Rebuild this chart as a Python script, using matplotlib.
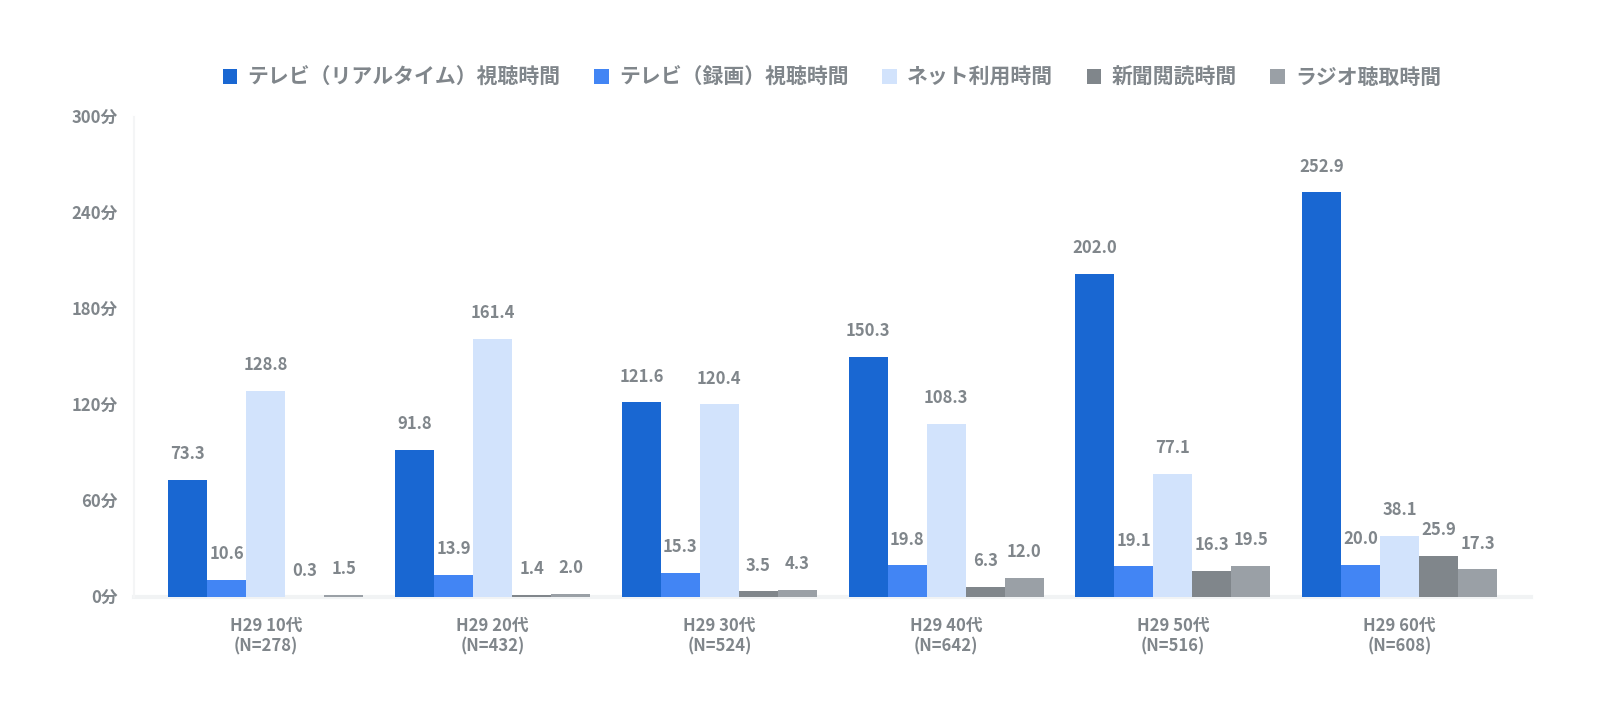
import matplotlib.pyplot as plt
import numpy as np
from matplotlib.patches import Patch

plt.rcParams['font.family'] = ['Noto Sans CJK JP', 'DejaVu Sans']

groups = ['H29 10代\n(N=278)', 'H29 20代\n(N=432)', 'H29 30代\n(N=524)',
          'H29 40代\n(N=642)', 'H29 50代\n(N=516)', 'H29 60代\n(N=608)']
series = ['テレビ（リアルタイム）視聴時間', 'テレビ（録画）視聴時間', 'ネット利用時間',
          '新聞閲読時間', 'ラジオ聴取時間']
tv_real = [73.3, 91.8, 121.6, 150.3, 202.0, 252.9]
tv_rec = [10.6, 13.9, 15.3, 19.8, 19.1, 20.0]
net = [128.8, 161.4, 120.4, 108.3, 77.1, 38.1]
paper = [0.3, 1.4, 3.5, 6.3, 16.3, 25.9]
radio = [1.5, 2.0, 4.3, 12.0, 19.5, 17.3]
yticks = [0, 60, 120, 180, 240, 300]

colors = ['#1967D2', '#4285F4', '#D2E3FC', '#80868B', '#9AA0A6']
text_color = '#80868B'

fig = plt.figure(figsize=(16, 7.02), dpi=100)
ax = fig.add_axes([0.084, 0.1496, 0.873, 0.6837])

x = np.arange(len(groups))
w = 0.172
data = [tv_real, tv_rec, net, paper, radio]
for i, vals in enumerate(data):
    pos = x + (i - 2) * w
    ax.bar(pos, vals, w, color=colors[i], linewidth=0, zorder=3)
    for px, v in zip(pos, vals):
        ax.annotate(f'{v:.1f}', (px, v), xytext=(0, 12), textcoords='offset points',
                    ha='center', va='bottom', fontsize=12, fontweight='bold',
                    color=text_color)

ax.set_xlim(-0.58, 5.58)
ax.set_ylim(0, 300)
ax.set_yticks(yticks)
ax.set_yticklabels([f'{t}分' for t in yticks])
ax.set_xticks(x)
ax.set_xticklabels(groups)
ax.tick_params(length=0, colors=text_color, labelsize=12)
ax.tick_params(axis='y', pad=12)
ax.tick_params(axis='x', pad=14)
for lab in ax.get_xticklabels() + ax.get_yticklabels():
    lab.set_fontweight('bold')
    lab.set_linespacing(1.2)

for s in ['top', 'right']:
    ax.spines[s].set_visible(False)
ax.spines['bottom'].set_color('#F1F3F4')
ax.spines['bottom'].set_linewidth(3)
ax.spines['bottom'].set_zorder(1)
ax.spines['left'].set_color('#F4F5F6')
ax.spines['left'].set_linewidth(1.5)

handles = [Patch(facecolor=c, edgecolor='none') for c in colors]
leg = fig.legend(handles, series, loc='center', bbox_to_anchor=(0.52, 0.89),
                 ncol=5, frameon=False, handlelength=0.7, handleheight=0.7,
                 handletextpad=0.5, columnspacing=1.6, fontsize=15)
for t in leg.get_texts():
    t.set_color(text_color)
    t.set_fontweight('bold')

fig.savefig('out.png', dpi=100)
